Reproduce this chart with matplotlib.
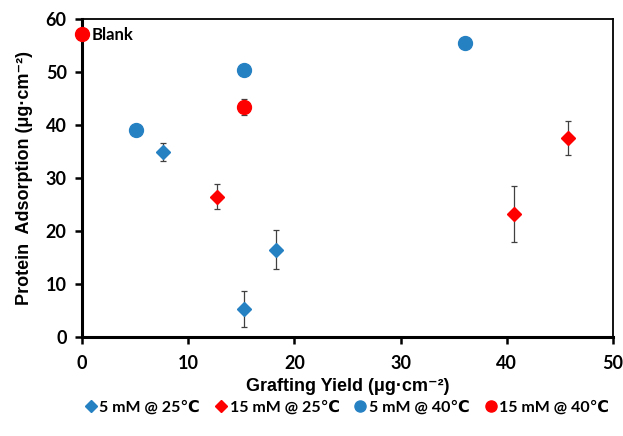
import matplotlib.pyplot as plt
from matplotlib.lines import Line2D

# Grafting yield (x), protein adsorption (y), error (yerr)
x_5_25 = [7.6, 15.3, 18.3]
y_5_25 = [35.0, 5.3, 16.5]
e_5_25 = [1.7, 3.4, 3.7]

x_15_25 = [12.7, 40.7, 45.8]
y_15_25 = [26.5, 23.3, 37.5]
e_15_25 = [2.4, 5.3, 3.2]

x_5_40 = [5.1, 15.3, 36.1]
y_5_40 = [39.0, 50.4, 55.5]
e_5_40 = [0.5, 0.4, 0.4]

x_15_40 = [0.0, 15.3]
y_15_40 = [57.2, 43.4]
e_15_40 = [0.0, 1.5]

blue = '#2681C3'
red = '#FF0000'
tick_font = ['Lato', 'DejaVu Sans']
label_font = ['Liberation Sans', 'DejaVu Sans']

fig = plt.figure(figsize=(6.23, 4.36), dpi=100)
ax = fig.add_axes([0.1316, 0.227, 0.8524, 0.729])

err_kw = dict(ecolor='#404040', elinewidth=0.9, capsize=2.2, capthick=0.9, linestyle='none')
ax.errorbar(x_5_25, y_5_25, yerr=e_5_25, marker='D', markersize=6.8, color=blue, zorder=3, **err_kw)
ax.errorbar(x_15_25, y_15_25, yerr=e_15_25, marker='D', markersize=6.8, color=red, zorder=3, **err_kw)
ax.errorbar(x_5_40, y_5_40, yerr=e_5_40, marker='o', markersize=10, color=blue, zorder=3, **err_kw)
ax.errorbar(x_15_40, y_15_40, yerr=e_15_40, marker='o', markersize=10, color=red, zorder=3, **err_kw)

ax.text(0.9, 57.0, 'Blank', fontsize=12, fontweight='bold', family=tick_font,
        va='center', ha='left')

ax.set_xlim(0, 50)
ax.set_ylim(0, 60)
ax.set_xticks(range(0, 51, 10))
ax.set_yticks(range(0, 61, 10))

for lbl in ax.get_xticklabels() + ax.get_yticklabels():
    lbl.set_fontfamily(tick_font)
    lbl.set_fontweight('bold')
    lbl.set_fontsize(13)

ax.tick_params(axis='both', direction='out', length=5, width=1.8, pad=6)
ax.tick_params(axis='x', pad=8)
ax.spines['left'].set_linewidth(2.2)
ax.spines['bottom'].set_linewidth(2.2)
ax.spines['top'].set_linewidth(1.3)
ax.spines['right'].set_linewidth(1.3)

ax.set_xlabel('Grafting Yield (\u03bcg\u00b7cm\u207b\u00b2)', fontsize=13, fontweight='bold',
              family=label_font, labelpad=4)
ax.set_ylabel('Protein  Adsorption (\u03bcg\u00b7cm\u207b\u00b2)', fontsize=13, fontweight='bold',
              family=label_font, labelpad=9)

for c in ax.get_children():
    try:
        c.set_clip_on(False)
    except Exception:
        pass

# legend handles, circles a bit smaller than in the plot
handles = [
    Line2D([], [], marker='D', markersize=6, color=blue, linestyle='none'),
    Line2D([], [], marker='D', markersize=6, color=red, linestyle='none'),
    Line2D([], [], marker='o', markersize=8, color=blue, linestyle='none'),
    Line2D([], [], marker='o', markersize=8, color=red, linestyle='none'),
]
labels = ['5 mM @ 25\u2103', '15 mM @ 25\u2103', '5 mM @ 40\u2103', '15 mM @ 40\u2103']
fig.legend(handles, labels, loc='center', ncol=4, bbox_to_anchor=(0.558, 0.066),
           frameon=False, prop={'family': tick_font, 'weight': 'bold', 'size': 11.5},
           handlelength=0.6, handletextpad=0.25, columnspacing=1.0)

fig.savefig('out.png', dpi=100)
